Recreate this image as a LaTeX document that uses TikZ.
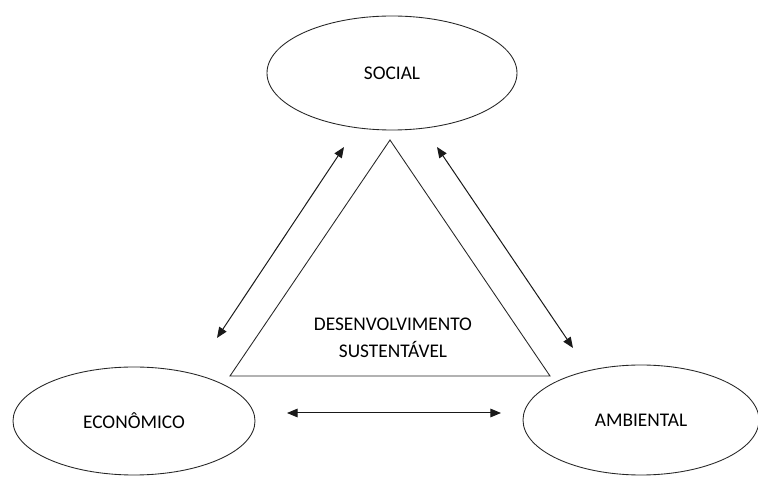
\documentclass[tikz,border=0pt]{standalone}
\usepackage{fontspec}
\setmainfont{Carlito}
\usetikzlibrary{shapes.geometric,arrows.meta}
\begin{document}
\begin{tikzpicture}[x=0.75pt,y=-0.75pt,
  line width=0.6pt, draw=black!85,
  pillar/.style={ellipse, draw=black!85, line width=0.65pt, inner sep=0pt, font=\fontsize{14.5}{17}\selectfont, text=black},
  link/.style={{Triangle[length=8pt,width=6.5pt]}-{Triangle[length=8pt,width=6.5pt]}, line width=0.75pt, black!90},
  centre/.style={font=\fontsize{14.5}{20}\selectfont, align=center, text=black, inner sep=0pt}]
\useasboundingbox (0,0) rectangle (758,477);
\fill[white] (0,0) rectangle (758,477);
% pillars
\node[pillar, minimum width=250*0.75pt, minimum height=114*0.75pt] (social) at (392,73) {\raisebox{-3pt}{SOCIAL}};
\node[pillar, minimum width=242*0.75pt, minimum height=108*0.75pt] (econ) at (134,421) {\raisebox{-3pt}{ECONÔMICO}};
\node[pillar, minimum width=236*0.75pt, minimum height=110*0.75pt] (amb) at (641,420) {\raisebox{-3pt}{AMBIENTAL}};
% triangle
\coordinate (tA) at (390,140);
\coordinate (tB) at (230,376);
\coordinate (tC) at (550,376);
\draw[black!85, line width=0.65pt] (tA) -- (tB) -- (tC) -- cycle;
\node[centre] (ds) at (393,338) {DESENVOLVIMENTO\\SUSTENTÁVEL};
% arrows
\coordinate (l1) at (344,147);
\coordinate (l2) at (217,338);
\coordinate (r1) at (437,147);
\coordinate (r2) at (573,348);
\coordinate (b1) at (287,413);
\coordinate (b2) at (501,413);
\draw[link] (l1) -- (l2);
\draw[link] (r1) -- (r2);
\draw[link] (b1) -- (b2);
\end{tikzpicture}
\end{document}
